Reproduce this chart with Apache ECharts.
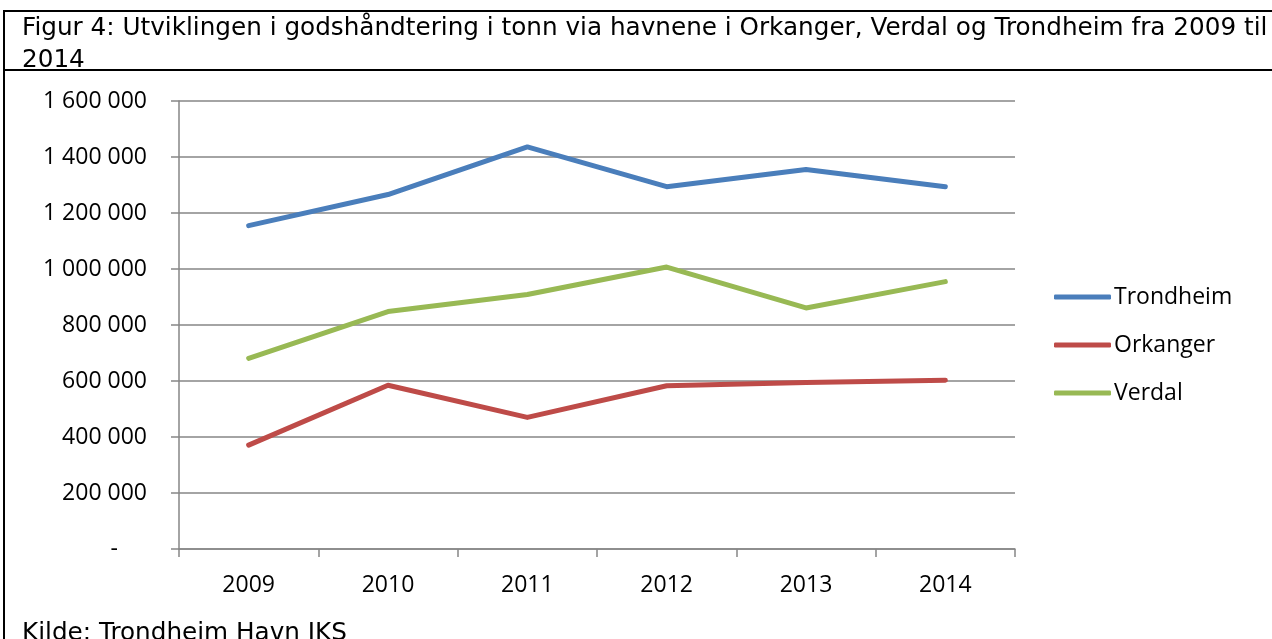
<!DOCTYPE html>
<html>
<head>
<meta charset="utf-8">
<script src="https://cdn.jsdelivr.net/npm/echarts@6/dist/echarts.min.js"></script>
<style>
html,body{margin:0;padding:0;background:#fff;}
#c{width:1272px;height:639px;}
</style>
</head>
<body>
<div id="c"></div>
<script>
var years = ['2009', '2010', '2011', '2012', '2013', '2014'];
var trondheim = [1155000, 1266000, 1436000, 1294000, 1355000, 1294000];
var orkanger = [371000, 585000, 470000, 583000, 595000, 603000];
var verdal = [681000, 848000, 909000, 1007000, 861000, 955000];
var titleLines = ['Figur 4: Utviklingen i godshåndtering i tonn via havnene i Orkanger, Verdal og Trondheim fra 2009 til', '2014'];
var sourceText = 'Kilde: Trondheim Havn IKS';

var chart = echarts.init(document.getElementById('c'));
function fmt(v) {
  if (v === 0) return '{d|-}';
  return String(v).replace(/\B(?=(\d{3})+(?!\d))/g, ' ');
}
var axisFont = 'Open Sans';
chart.setOption({
  backgroundColor: '#fff',
  animation: false,
  title: [{
    text: titleLines.join('\n'),
    left: 17, top: 8,
    textStyle: { fontFamily: 'DejaVu Sans', fontSize: 24.7, fontWeight: 'normal', color: '#000', lineHeight: 32 }
  }, {
    text: sourceText,
    left: 17, top: 616,
    textStyle: { fontFamily: 'DejaVu Sans', fontSize: 24.7, fontWeight: 'normal', color: '#000' }
  }],
  graphic: [
    { type: 'line', shape: { x1: 4, y1: 11, x2: 1272, y2: 11 }, style: { stroke: '#000', lineWidth: 2 } },
    { type: 'line', shape: { x1: 4, y1: 70, x2: 1272, y2: 70 }, style: { stroke: '#000', lineWidth: 2 } },
    { type: 'line', shape: { x1: 4, y1: 10, x2: 4, y2: 639 }, style: { stroke: '#000', lineWidth: 2 } }
  ],
  grid: { left: 179, right: 257, top: 101, bottom: 90, containLabel: false },
  legend: {
    orient: 'vertical',
    left: 1049, top: 277,
    icon: 'roundRect',
    itemWidth: 57, itemHeight: 5,
    itemGap: 18,
    textStyle: { fontFamily: axisFont, fontSize: 23, color: '#000', lineHeight: 30, padding: [0, 0, 0, -2] },
    data: ['Trondheim', 'Orkanger', 'Verdal']
  },
  xAxis: {
    type: 'category',
    data: years,
    boundaryGap: true,
    axisLine: { lineStyle: { color: '#868686', width: 1.5 } },
    axisTick: { show: true, length: 8, lineStyle: { color: '#868686', width: 1.5 } },
    axisLabel: { fontFamily: axisFont, fontSize: 23, color: '#000', margin: 25 },
    splitLine: { show: false }
  },
  yAxis: {
    type: 'value',
    min: 0, max: 1600000, interval: 200000,
    axisLine: { show: true, lineStyle: { color: '#868686', width: 1.5 } },
    axisTick: { show: true, length: 8, lineStyle: { color: '#868686', width: 1.5 } },
    axisLabel: {
      fontFamily: axisFont, fontSize: 23, color: '#000', margin: 32,
      formatter: fmt,
      rich: { d: { fontFamily: axisFont, fontSize: 23, color: '#000', padding: [0, 29, 0, 0] } }
    },
    splitLine: { show: true, lineStyle: { color: '#868686', width: 1.5 } }
  },
  series: [
    { name: 'Trondheim', type: 'line', data: trondheim, showSymbol: false, symbol: 'none', color: '#4A7EBB',
      lineStyle: { width: 5, color: '#4A7EBB', cap: 'round', join: 'round' } },
    { name: 'Orkanger', type: 'line', data: orkanger, showSymbol: false, symbol: 'none', color: '#BE4B48',
      lineStyle: { width: 5, color: '#BE4B48', cap: 'round', join: 'round' } },
    { name: 'Verdal', type: 'line', data: verdal, showSymbol: false, symbol: 'none', color: '#98B954',
      lineStyle: { width: 5, color: '#98B954', cap: 'round', join: 'round' } }
  ]
});
</script>
</body>
</html>
